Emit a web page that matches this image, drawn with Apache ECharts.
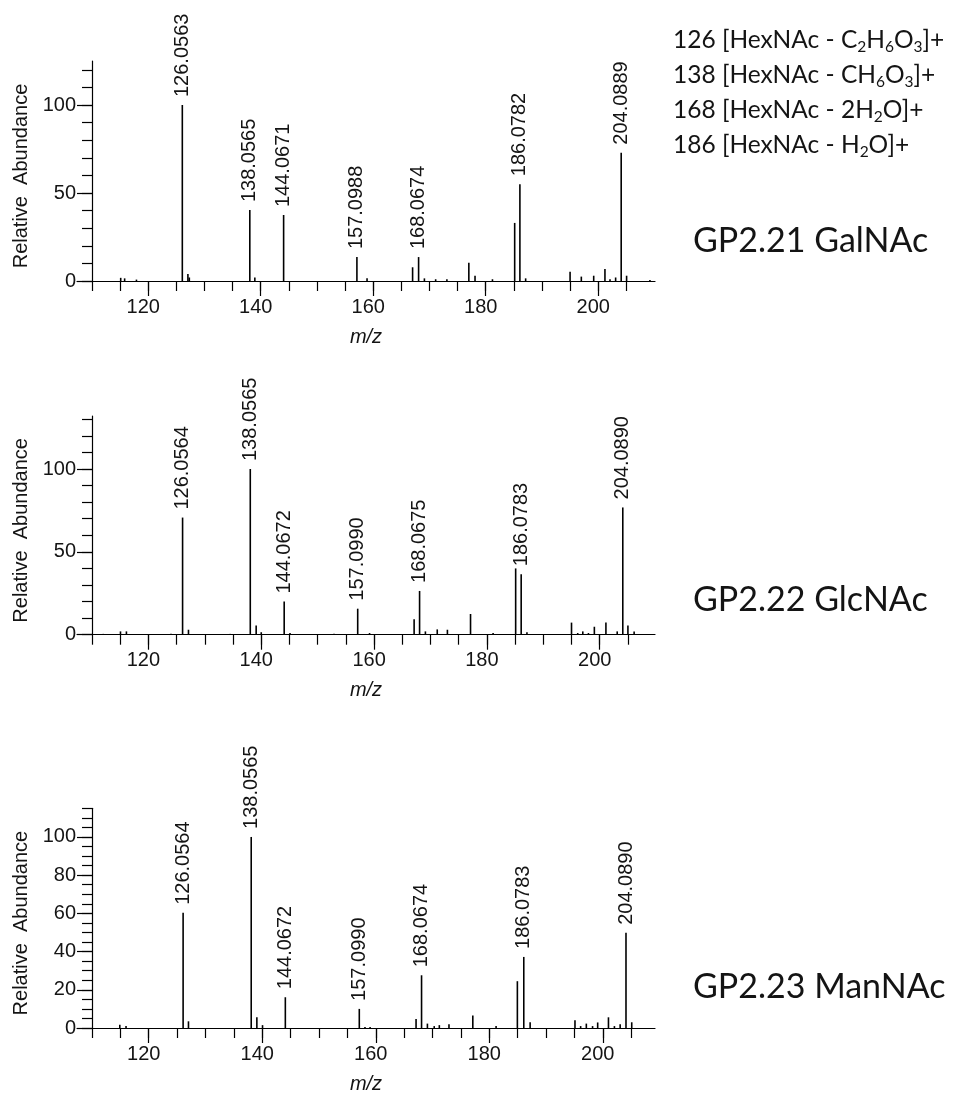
<!DOCTYPE html>
<html>
<head>
<meta charset="utf-8">
<script src="https://cdn.jsdelivr.net/npm/echarts@6/dist/echarts.min.js"></script>
<style>
html,body{margin:0;padding:0;background:#fff;}
#c{width:956px;height:1095px;}
</style>
</head>
<body>
<div id="c"></div>
<script>
// ---------- data ----------
// GP2.21 GalNAc
const galLabeledMz  = [126.0563, 138.0565, 144.0671, 157.0988, 168.0674, 186.0782, 204.0889];
const galLabeledInt = [100, 40.3, 37.5, 13.6, 13.6, 55, 72.9];
const galMinorMz  = [115.1, 115.8, 117.9, 127.05, 127.3, 138.95, 158.9, 167.0, 169.1, 171.1, 173.1, 177.0, 178.1, 181.2, 185.15, 187.1, 195.0, 197.0, 199.2, 201.2, 202.1, 203.1, 205.05, 209.2];
const galMinorInt = [1.8, 1.5, 0.8, 4, 2, 2, 1.5, 7.8, 1.5, 1, 1, 10.4, 3, 1, 33, 1.5, 5.3, 2.5, 3, 6.8, 1, 2, 3, 0.5];

// GP2.22 GlcNAc
const glcLabeledMz  = [126.0564, 138.0565, 144.0672, 157.0990, 168.0675, 186.0783, 204.0890];
const glcLabeledInt = [70.7, 100, 20, 15.7, 26.4, 36.5, 76.8];
const glcMinorMz  = [112.0, 115.05, 116.1, 124.0, 127.1, 134.5, 139.1, 140.0, 145.1, 152.9, 159.2, 167.1, 169.1, 171.2, 173.0, 177.1, 181.1, 185.1, 187.1, 195.0, 196.1, 197.0, 198.0, 199.05, 201.1, 203.1, 205.0, 206.1];
const glcMinorInt = [0.5, 2, 2, 0.5, 3, 0.5, 5.6, 1.5, 1, 0.5, 1, 9.3, 2, 3.2, 3, 12.5, 1, 40, 1.5, 7.3, 1, 2, 1, 4.8, 7.3, 2, 5.6, 2];

// GP2.23 ManNAc
const manLabeledMz  = [126.0564, 138.0565, 144.0672, 157.0990, 168.0674, 186.0783, 204.0890];
const manLabeledInt = [60.3, 100, 16.1, 10, 27.6, 37.2, 49.8];
const manMinorMz  = [114.9, 116.0, 127.0, 139.05, 140.05, 158.1, 159.0, 167.1, 169.1, 170.3, 171.2, 172.9, 177.1, 181.2, 184.95, 187.2, 195.1, 196.1, 197.1, 198.2, 199.1, 201.0, 202.05, 203.06, 205.1];
const manMinorInt = [1.7, 1, 3.5, 5.6, 1.5, 0.5, 0.5, 4.7, 2.3, 1, 1.5, 2, 6.6, 1, 24.5, 3, 4, 1, 2.3, 1, 2.9, 5.6, 1, 2, 3];

// tick values
const xMinorTicks = [110, 115, 120, 125, 130, 135, 140, 145, 150, 155, 160, 165, 170, 175, 180, 185, 190, 195, 200, 205];
const xLabelTicks = [120, 140, 160, 180, 200];
const yMinorTicks10 = [0, 10, 20, 30, 40, 50, 60, 70, 80, 90, 100, 110, 120];
const yMinorTicks10b = [0, 10, 20, 30, 40, 50, 60, 70, 80, 90, 100, 110, 120, 130];
const yMajorTicks50 = [0, 50, 100];
const yMinorTicks5 = [0, 5, 10, 15, 20, 25, 30, 35, 40, 45, 50, 55, 60, 65, 70, 75, 80, 85, 90, 95, 100, 105, 110, 115];
const yMajorTicks20 = [0, 20, 40, 60, 80, 100];

const sampleNames = ['GP2.21 GalNAc', 'GP2.22 GlcNAc', 'GP2.23 ManNAc'];
const fragmentLines = [
  '126 [HexNAc - C{s|2}H{s|6}O{s|3}]+',
  '138 [HexNAc - CH{s|6}O{s|3}]+',
  '168 [HexNAc - 2H{s|2}O]+',
  '186 [HexNAc - H{s|2}O]+'
];

// ---------- layout ----------
const panels = [
  {top: 61,  height: 220,   xMin: 107.33, xMax: 210.1, yMax: 125, yMinor: yMinorTicks10,  yMajor: yMajorTicks50,
   labMz: galLabeledMz, labInt: galLabeledInt, minMz: galMinorMz, minInt: galMinorInt, nameTop: 224},
  {top: 416, height: 218.7, xMin: 107.34, xMax: 209.8, yMax: 132, yMinor: yMinorTicks10b, yMajor: yMajorTicks50,
   labMz: glcLabeledMz, labInt: glcLabeledInt, minMz: glcMinorMz, minInt: glcMinorInt, nameTop: 583},
  {top: 808.3, height: 220, xMin: 107.36, xMax: 209.2, yMax: 115, yMinor: yMinorTicks5,   yMajor: yMajorTicks20,
   labMz: manLabeledMz, labInt: manLabeledInt, minMz: manMinorMz, minInt: manMinorInt, nameTop: 970}
];

const AX_FONT = 'Liberation Sans, Arial, sans-serif';
const TXT = '#141414';

const grid = [], xAxis = [], yAxis = [], series = [];
panels.forEach((p, i) => {
  grid.push({left: 77, width: 578, top: p.top, height: p.height, containLabel: false});
  // minor x axis (line + small ticks)
  xAxis.push({
    type: 'value', gridIndex: i, min: p.xMin, max: p.xMax, position: 'bottom',
    axisLine: {show: true, onZero: false, lineStyle: {color: '#000', width: 1.2}},
    axisTick: {show: true, customValues: xMinorTicks, length: 10, lineStyle: {color: '#000', width: 1.2}},
    axisLabel: {show: false}, splitLine: {show: false}
  });
  // major x axis (long ticks + labels + name)
  xAxis.push({
    type: 'value', gridIndex: i, min: p.xMin, max: p.xMax, position: 'bottom',
    axisLine: {show: false, onZero: false},
    axisTick: {show: true, customValues: xLabelTicks, length: 15, lineStyle: {color: '#000', width: 1.2}},
    axisLabel: {show: true, customValues: xLabelTicks, fontSize: 20, fontFamily: AX_FONT, color: TXT, margin: 16, padding: [0, 10, 0, 0]},
    name: 'm/z', nameLocation: 'middle', nameGap: 46,
    nameTextStyle: {fontSize: 20, fontStyle: 'italic', fontFamily: AX_FONT, color: TXT},
    splitLine: {show: false}
  });
  // minor y axis
  yAxis.push({
    type: 'value', gridIndex: i, min: 0, max: p.yMax, position: 'left', offset: -15,
    axisLine: {show: true, lineStyle: {color: '#000', width: 1.2}},
    axisTick: {show: true, customValues: p.yMinor, length: 10, lineStyle: {color: '#000', width: 1.2}},
    axisLabel: {show: false}, splitLine: {show: false}
  });
  // major y axis
  yAxis.push({
    type: 'value', gridIndex: i, min: 0, max: p.yMax, position: 'left', offset: -15,
    axisLine: {show: false},
    axisTick: {show: true, customValues: p.yMajor, length: 15, lineStyle: {color: '#000', width: 1.2}},
    axisLabel: {show: true, customValues: p.yMajor, fontSize: 20, fontFamily: AX_FONT, color: TXT, margin: 16},
    name: 'Relative  Abundance', nameLocation: 'middle', nameGap: 60, nameRotate: 90,
    nameTextStyle: {fontSize: 20, fontFamily: AX_FONT, color: TXT, padding: [0, 10, 0, 0]},
    splitLine: {show: false}
  });

  const data = [];
  p.minMz.forEach((m, k) => data.push({value: [m, p.minInt[k]], label: {show: false}}));
  p.labMz.forEach((m, k) => data.push({value: [m, p.labInt[k]], label: {show: true}}));
  series.push({
    type: 'bar', xAxisIndex: 2 * i, yAxisIndex: 2 * i, data: data,
    barWidth: 1.6, silent: true,
    itemStyle: {color: '#000'},
    label: {
      position: 'top', rotate: 90, align: 'left', verticalAlign: 'middle', distance: 8,
      fontSize: 20, fontFamily: AX_FONT, color: TXT,
      formatter: (prm) => prm.value[0].toFixed(4)
    }
  });
});

const richSub = {s: {fontSize: 15.5, lineHeight: 15, verticalAlign: 'bottom', padding: [0, 0, 3, 0], fontFamily: 'Lato', color: TXT}};
const title = [{
  text: fragmentLines.join('\n'), left: 673, top: 23, padding: 0,
  textStyle: {fontFamily: 'Lato', fontSize: 24.5, fontWeight: 'normal', color: TXT, lineHeight: 35, rich: richSub}
}];
panels.forEach((p, i) => {
  title.push({
    text: sampleNames[i], left: 693, top: p.nameTop, padding: 0,
    textStyle: {fontFamily: 'Lato', fontSize: 34, fontWeight: 'normal', color: TXT}
  });
});

const chart = echarts.init(document.getElementById('c'), null, {renderer: 'canvas'});
chart.setOption({
  animation: false,
  backgroundColor: '#fff',
  title: title,
  grid: grid,
  xAxis: xAxis,
  yAxis: yAxis,
  series: series
});
</script>
</body>
</html>
